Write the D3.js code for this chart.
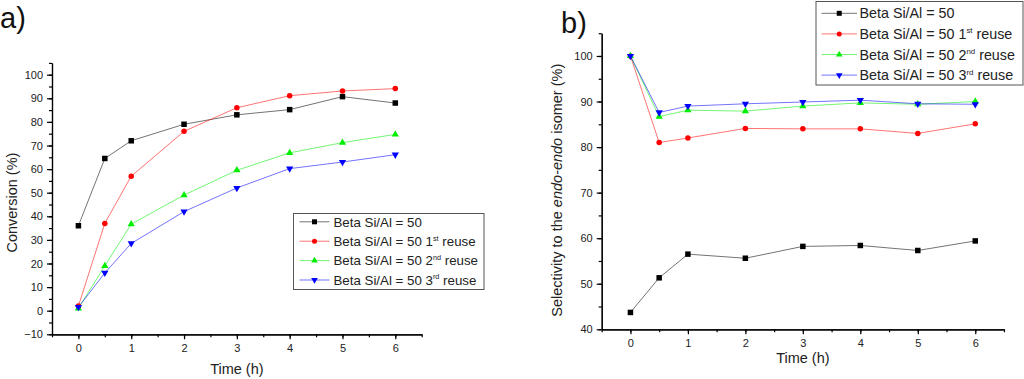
<!DOCTYPE html>
<html>
<head>
<meta charset="utf-8">
<script src="https://cdn.jsdelivr.net/npm/d3@7"></script>
<style>
  body { margin: 0; background: #fff; }
  svg { display: block; font-family: Arial, "Liberation Sans", sans-serif; }
</style>
</head>
<body>
<div id="chart"></div>
<script>
// data
const times = [0, 0.5, 1, 2, 3, 4, 5, 6]
const seriesNames = ['Beta Si/Al = 50', 'Beta Si/Al = 50 1', 'Beta Si/Al = 50 2', 'Beta Si/Al = 50 3']
const seriesSup = ['', 'st', 'nd', 'rd']
const seriesColors = ['#000000', '#ff0000', '#00ee00', '#0000ff']
const seriesShapes = ['square', 'circle', 'triangle', 'triangleDown']

const convFresh = [36, 64.5, 72, 79, 83, 85.2, 90.7, 88]
const convReuse1 = [2, 37, 57, 76, 86, 91.1, 93.1, 94.1]
const convReuse2 = [1, 19, 36.7, 49, 59.5, 66.9, 71.2, 74.7]
const convReuse3 = [1.5, 16, 28.5, 42, 52, 60.2, 63, 66.1]

const selFresh = [43.7, 51.3, 56.5, 55.6, 58.2, 58.4, 57.3, 59.4]
const selReuse1 = [100, 81, 82, 84.1, 84, 84, 83, 85.1]
const selReuse2 = [100, 86.7, 88.1, 87.9, 89, 89.7, 89.4, 90]
const selReuse3 = [100, 87.6, 89, 89.5, 89.9, 90.3, 89.5, 89.4]

const xTicks = [0, 1, 2, 3, 4, 5, 6]
const convTicks = [-10, 0, 10, 20, 30, 40, 50, 60, 70, 80, 90, 100]
const selTicks = [40, 50, 60, 70, 80, 90, 100]

const svg = d3.select('#chart').append('svg')
  .attr('width', 1024)
  .attr('height', 379)

function marker(g, shape, color, size) {
  let sym
  if (shape == 'square') sym = d3.symbol(d3.symbolSquare, size * size)
  else if (shape == 'circle') sym = d3.symbol(d3.symbolCircle, Math.PI * size * size / 4)
  else sym = d3.symbol(d3.symbolTriangle, size * size * 0.75)
  g.append('path')
    .attr('d', sym())
    .attr('fill', color)
    .attr('transform', shape == 'triangleDown' ? 'rotate(180)' : null)
}

// draws one panel
function panel(opt) {
  const x = d3.scaleLinear().domain([-0.5, 6.5]).range([opt.left, opt.right])
  const y = d3.scaleLinear().domain(opt.yDomain).range([opt.bottom, opt.top])
  const g = svg.append('g')

  // minor ticks
  g.append('g')
    .attr('transform', `translate(0,${opt.bottom})`)
    .call(d3.axisBottom(x).tickValues(d3.range(-0.5, 6.51, 0.5)).tickSize(3).tickFormat('').tickSizeOuter(0))
  g.append('g')
    .attr('transform', `translate(${opt.left},0)`)
    .call(d3.axisLeft(y).tickValues(d3.range(opt.yDomain[0], opt.yDomain[1] + 0.1, 5)).tickSize(3).tickFormat('').tickSizeOuter(0))

  // major ticks + labels
  g.append('g')
    .attr('transform', `translate(0,${opt.bottom})`)
    .call(d3.axisBottom(x).tickValues(xTicks).tickFormat(d3.format('d')).tickSize(5).tickSizeOuter(0).tickPadding(5))
  g.append('g')
    .attr('transform', `translate(${opt.left},0)`)
    .call(d3.axisLeft(y).tickValues(opt.yTicks).tickFormat(d3.format('d')).tickSize(5).tickSizeOuter(0).tickPadding(4))

  g.selectAll('.domain, .tick line').attr('stroke', '#000').attr('stroke-width', 1.2)
  g.selectAll('.tick text').attr('font-size', 11).attr('fill', '#222')
    .attr('font-family', 'Arial, "Liberation Sans", sans-serif')

  // axis titles
  g.append('text')
    .attr('x', x(3)).attr('y', opt.bottom + opt.xTitleDy)
    .attr('text-anchor', 'middle').attr('font-size', 14.5).attr('fill', '#222')
    .text('Time (h)')
  const yt = g.append('text')
    .attr('transform', `translate(${opt.yTitleX},${(opt.top + opt.bottom) / 2 + opt.yTitleDy}) rotate(-90)`)
    .attr('text-anchor', 'middle').attr('font-size', 14.5).attr('fill', '#222')
  opt.yTitle.forEach(p => {
    yt.append('tspan').attr('font-style', p[1] ? 'italic' : null).text(p[0])
  })

  // panel letter
  g.append('text')
    .attr('x', opt.letterX).attr('y', opt.letterY)
    .attr('font-size', 29).attr('fill', '#111')
    .text(opt.letter)

  // series
  const line = d3.line().x((d, i) => x(times[i])).y(d => y(d))
  opt.series.forEach((vals, k) => {
    g.append('path')
      .attr('d', line(vals))
      .attr('fill', 'none')
      .attr('stroke', seriesColors[k])
      .attr('stroke-opacity', 0.55)
      .attr('stroke-width', 1)
  })
  opt.series.forEach((vals, k) => {
    g.selectAll(null).data(vals).enter().append('g')
      .attr('transform', (d, i) => `translate(${x(times[i])},${y(d)})`)
      .each(function() { marker(d3.select(this), seriesShapes[k], seriesColors[k], 5.5) })
  })

  // legend
  const L = opt.legend
  g.append('rect')
    .attr('x', L.x).attr('y', L.y).attr('width', L.w).attr('height', L.h)
    .attr('fill', '#fff').attr('stroke', '#555').attr('stroke-width', 1)
  seriesNames.forEach((name, k) => {
    const row = g.append('g').attr('transform', `translate(${L.x},${L.y + L.first + k * L.step})`)
    row.append('line')
      .attr('x1', L.lineX1).attr('x2', L.lineX2)
      .attr('stroke', seriesColors[k]).attr('stroke-opacity', 0.55)
    const m = row.append('g').attr('transform', `translate(${(L.lineX1 + L.lineX2) / 2},0)`)
    marker(m, seriesShapes[k], seriesColors[k], 5)
    const t = row.append('text')
      .attr('x', L.textX).attr('y', L.fs * 0.36)
      .attr('font-size', L.fs).attr('fill', '#222')
    t.append('tspan').text(name)
    if (seriesSup[k]) {
      t.append('tspan').attr('font-size', L.fs * 0.55).attr('dy', -L.fs * 0.4).text(seriesSup[k])
      t.append('tspan').attr('dy', L.fs * 0.4).text(' reuse')
    }
  })
}

panel({
  left: 52, right: 421.7, top: 62.9, bottom: 334.3,
  yDomain: [-10, 105], yTicks: convTicks,
  series: [convFresh, convReuse1, convReuse2, convReuse3],
  xTitleDy: 40, yTitleX: 17, yTitleDy: 4,
  yTitle: [['Conversion (%)', false]],
  letter: 'a)', letterX: 0, letterY: 28,
  legend: { x: 293.5, y: 213.5, w: 190.5, h: 76, first: 8.3, step: 19.4,
            lineX1: 6, lineX2: 36, textX: 40, fs: 13.3 }
})

panel({
  left: 601.7, right: 1004, top: 33.2, bottom: 329.3,
  yDomain: [40, 105], yTicks: selTicks,
  series: [selFresh, selReuse1, selReuse2, selReuse3],
  xTitleDy: 34, yTitleX: 562, yTitleDy: 9,
  yTitle: [['Selectivity to the ', false], ['endo-endo', true], [' isomer (%)', false]],
  letter: 'b)', letterX: 561, letterY: 33,
  legend: { x: 816, y: 1.5, w: 207, h: 83.5, first: 11.8, step: 20.6,
            lineX1: 5.5, lineX2: 41, textX: 43.5, fs: 14.3 }
})
</script>
</body>
</html>
